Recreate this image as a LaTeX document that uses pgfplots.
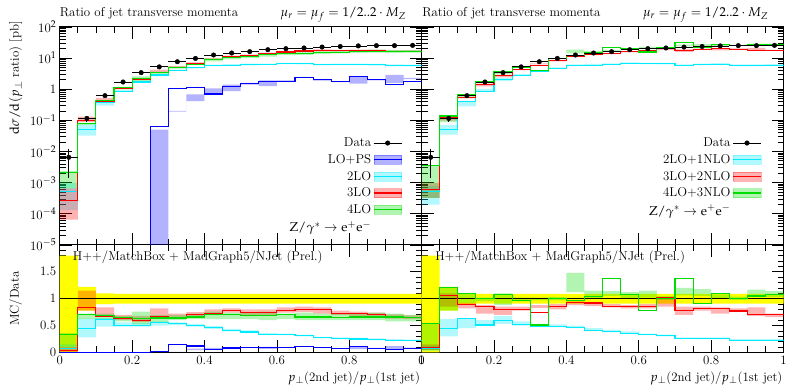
\documentclass[border=0pt]{standalone}
\usepackage[osf]{mathpazo}
\usepackage{pgfplots}
\pgfplotsset{compat=1.18}
\usepackage{pgfplotstable}
\usepgfplotslibrary{fillbetween}

\definecolor{mcgreen}{RGB}{0,220,0}
\definecolor{mccyan}{RGB}{0,235,255}
\definecolor{mcblue}{RGB}{0,0,255}
\definecolor{mcred}{RGB}{255,0,0}
\definecolor{datayellow}{RGB}{255,255,0}
\newcommand{\fs}{\fontsize{13}{15.5}\selectfont}

% left panel: data, ratios MC/Data (line, band low, band high)
\pgfplotstableread{
x    d      em   ep   dlo  dhi  c    clo  chi  r    rlo  rhi  g    glo  ghi  b        blo      bhi
0.00 0.0065 0.78 0.80 0.00 1.80 0.08 0.02 0.15 0.04 0.01 0.10 0.33 0.10 0.36 0.000001 0.000001 0.000001
0.05 0.115  0.22 0.22 0.78 1.22 0.44 0.28 0.63 0.83 0.78 1.15 0.70 0.62 0.72 0.000001 0.000001 0.000001
0.10 0.62   0.10 0.10 0.90 1.10 0.62 0.48 0.64 0.67 0.66 0.84 0.69 0.62 0.72 0.000001 0.000001 0.000001
0.15 1.7    0.09 0.09 0.91 1.09 0.50 0.48 0.56 0.64 0.60 0.70 0.65 0.58 0.68 0.000001 0.000001 0.000001
0.20 3.4    0.09 0.09 0.91 1.09 0.50 0.48 0.55 0.60 0.57 0.68 0.63 0.52 0.76 0.000001 0.000001 0.000001
0.25 5.2    0.09 0.09 0.91 1.09 0.55 0.50 0.58 0.67 0.65 0.82 0.64 0.55 0.70 0.0125   0.000001 0.0096
0.30 7.6    0.09 0.09 0.91 1.09 0.54 0.51 0.56 0.65 0.63 0.72 0.64 0.60 0.70 0.140    0.025    0.0263
0.35 9.7    0.09 0.09 0.91 1.09 0.50 0.48 0.53 0.70 0.66 0.75 0.66 0.62 0.72 0.120    0.043    0.070
0.40 12.5   0.09 0.09 0.91 1.09 0.46 0.44 0.49 0.73 0.70 0.80 0.70 0.62 0.76 0.056    0.058    0.085
0.45 14.5   0.09 0.09 0.91 1.09 0.41 0.39 0.44 0.78 0.74 0.82 0.70 0.62 0.74 0.083    0.060    0.097
0.50 16.0   0.09 0.09 0.91 1.09 0.38 0.36 0.41 0.74 0.70 0.80 0.68 0.62 0.74 0.094    0.0875   0.100
0.55 18.5   0.09 0.09 0.91 1.09 0.34 0.33 0.36 0.74 0.70 0.80 0.68 0.60 0.76 0.094    0.068    0.103
0.60 20.0   0.09 0.09 0.91 1.09 0.33 0.32 0.35 0.78 0.74 0.84 0.70 0.62 0.72 0.090    0.0875   0.095
0.65 21.0   0.09 0.09 0.91 1.09 0.31 0.30 0.33 0.80 0.75 0.85 0.66 0.60 0.74 0.114    0.110    0.119
0.70 22.5   0.09 0.09 0.91 1.09 0.27 0.26 0.29 0.80 0.72 0.84 0.66 0.60 0.72 0.089    0.084    0.093
0.75 23.5   0.09 0.09 0.91 1.09 0.26 0.25 0.28 0.73 0.70 0.78 0.65 0.60 0.72 0.074    0.072    0.077
0.80 24.5   0.09 0.09 0.91 1.09 0.25 0.24 0.27 0.72 0.68 0.76 0.66 0.60 0.72 0.106    0.061    0.106
0.85 25.0   0.09 0.09 0.91 1.09 0.24 0.23 0.26 0.70 0.65 0.74 0.66 0.60 0.74 0.080    0.076    0.084
0.90 25.0   0.09 0.09 0.91 1.09 0.23 0.22 0.25 0.67 0.63 0.71 0.66 0.58 0.72 0.056    0.064    0.116
0.95 25.5   0.09 0.09 0.91 1.09 0.22 0.21 0.24 0.65 0.62 0.69 0.65 0.58 0.70 0.067    0.082    0.090
1.00 25.5   0.09 0.09 0.91 1.09 0.22 0.21 0.24 0.65 0.62 0.69 0.65 0.58 0.70 0.067    0.082    0.090
}\tabL

% right panel
\pgfplotstableread{
x    d      em   ep   dlo  dhi  c    clo  chi  r    rlo  rhi  g    glo  ghi
0.00 0.0065 0.78 0.80 0.00 1.80 0.08 0.03 0.12 0.09 0.05 0.15 0.54 0.05 0.55
0.05 0.115  0.22 0.22 0.78 1.22 0.44 0.30 0.62 1.06 0.85 1.10 1.20 0.78 1.20
0.10 0.62   0.10 0.10 0.90 1.10 0.63 0.45 0.63 0.89 0.82 0.92 1.09 0.92 1.10
0.15 1.7    0.09 0.09 0.91 1.09 0.51 0.50 0.60 0.85 0.72 0.88 1.00 0.95 1.02
0.20 3.4    0.09 0.09 0.91 1.09 0.60 0.53 0.68 0.80 0.70 0.85 1.08 0.88 1.10
0.25 5.2    0.09 0.09 0.91 1.09 0.52 0.50 0.58 0.80 0.78 0.85 0.97 0.95 1.02
0.30 7.6    0.09 0.09 0.91 1.09 0.49 0.48 0.53 0.74 0.83 0.88 0.51 0.97 1.02
0.35 9.7    0.09 0.09 0.91 1.09 0.49 0.47 0.52 0.86 0.80 0.90 1.00 0.97 1.03
0.40 12.5   0.09 0.09 0.91 1.09 0.47 0.45 0.50 0.93 0.88 0.95 0.96 1.12 1.48
0.45 14.5   0.09 0.09 0.91 1.09 0.41 0.40 0.45 0.92 0.86 0.93 1.04 1.00 1.15
0.50 16.0   0.09 0.09 0.91 1.09 0.39 0.38 0.42 0.86 0.84 0.90 1.37 1.05 1.14
0.55 18.5   0.09 0.09 0.91 1.09 0.36 0.35 0.39 0.85 0.82 0.88 1.07 1.00 1.12
0.60 20.0   0.09 0.09 0.91 1.09 0.33 0.32 0.35 0.86 0.82 0.90 0.78 1.02 1.15
0.65 21.0   0.09 0.09 0.91 1.09 0.31 0.30 0.33 1.03 0.85 1.03 1.00 0.98 1.05
0.70 22.5   0.09 0.09 0.91 1.09 0.26 0.26 0.28 0.78 0.70 0.85 1.37 1.06 1.20
0.75 23.5   0.09 0.09 0.91 1.09 0.26 0.25 0.28 0.82 0.78 0.85 0.91 1.05 1.18
0.80 24.5   0.09 0.09 0.91 1.09 0.26 0.25 0.28 0.82 0.72 0.84 1.09 1.00 1.08
0.85 25.0   0.09 0.09 0.91 1.09 0.23 0.22 0.25 0.77 0.76 0.82 1.00 0.98 1.04
0.90 25.0   0.09 0.09 0.91 1.09 0.23 0.22 0.25 0.70 0.68 0.84 1.05 1.03 1.17
0.95 25.5   0.09 0.09 0.91 1.09 0.23 0.22 0.25 0.70 0.66 0.72 1.07 1.03 1.14
1.00 25.5   0.09 0.09 0.91 1.09 0.23 0.22 0.25 0.70 0.66 0.72 1.07 1.03 1.14
}\tabR

\newcommand{\mainband}[4]{%
  \addplot[const plot, draw=none, forget plot, name path=#2] table[x=x, y expr=\thisrow{#2}*\thisrow{d}] {#1};
  \addplot[const plot, draw=none, forget plot, name path=#3] table[x=x, y expr=\thisrow{#3}*\thisrow{d}] {#1};
  \addplot[fill=#4, fill opacity=0.3, draw=none, forget plot] fill between[of=#2 and #3];
}
\newcommand{\mainline}[3]{%
  \addplot[const plot, #3, line width=1.1bp, forget plot] table[x=x, y expr=\thisrow{#2}*\thisrow{d}] {#1};
}
\newcommand{\ratioband}[4]{%
  \addplot[const plot, draw=none, forget plot, name path=#2] table[x=x, y=#2] {#1};
  \addplot[const plot, draw=none, forget plot, name path=#3] table[x=x, y=#3] {#1};
  \addplot[fill=#4, fill opacity=0.3, draw=none, forget plot] fill between[of=#2 and #3];
}
\newcommand{\ratioline}[3]{%
  \addplot[const plot, #3, line width=1.1bp, forget plot] table[x=x, y=#2] {#1};
}
\newcommand{\datapoints}[1]{%
  \addplot[black, only marks, mark=*, mark size=2.3bp, forget plot,
    error bars/x dir=both, error bars/x fixed=0.025,
    error bars/y dir=both, error bars/y explicit,
    error bars/error bar style={black, line width=0.8bp}, error bars/error mark=none]
    table[x expr=\thisrow{x}+0.025, y=d,
          y error plus expr=\thisrow{ep}*\thisrow{d},
          y error minus expr=\thisrow{em}*\thisrow{d}] {#1};
}
\newcommand{\yellowband}[1]{%
  \addplot[const plot, draw=none, forget plot, name path=dlo] table[x=x, y=dlo] {#1};
  \addplot[const plot, draw=none, forget plot, name path=dhi] table[x=x, y=dhi] {#1};
  \addplot[fill=datayellow, draw=none, forget plot] fill between[of=dlo and dhi];
  \addplot[black, line width=1bp, forget plot] coordinates {(0,1) (1,1)};
}

\newcommand{\legband}[1]{\addlegendimage{legend image code/.code={
  \fill[#1, opacity=0.3] (0bp,-4.5bp) rectangle (28bp,4.5bp);
  \draw[#1, line width=1.2bp] (0bp,0bp) -- (28bp,0bp);}}}
\newcommand{\legdata}{\addlegendimage{legend image code/.code={
  \draw[black, line width=0.8bp] (0bp,0bp) -- (28bp,0bp);
  \fill[black] (14bp,0bp) circle (2.3bp);}}}

\begin{document}
\begin{tikzpicture}[x=1bp, y=1bp]
\path (0,0) rectangle (790,388);

% titles
\node[anchor=base west, inner sep=0pt, font=\fs] at (60,371) {Ratio of jet transverse momenta};
\node[anchor=base east, inner sep=0pt, font=\fs] at (408,371) {$\mu_r=\mu_f=1/2..2\cdot M_Z$};
\node[anchor=base west, inner sep=0pt, font=\fs] at (424,371) {Ratio of jet transverse momenta};
\node[anchor=base east, inner sep=0pt, font=\fs] at (772,371) {$\mu_r=\mu_f=1/2..2\cdot M_Z$};

% generator labels (under the bands)
\node[anchor=base west, inner sep=0pt, font=\fs] at (73,126) {H++/MatchBox + MadGraph5/NJet (Prel.)};
\node[anchor=base west, inner sep=0pt, font=\fs] at (437,126) {H++/MatchBox + MadGraph5/NJet (Prel.)};

% axis titles
\node[anchor=base east, rotate=90, inner sep=0pt, font=\fs] at (19,367) {$\mathrm{d}\sigma/\mathrm{d}(p_\perp$ ratio) [pb]};
\node[anchor=base, rotate=90, inner sep=0pt, font=\fs] at (19,88) {MC/Data};
\node[anchor=base east, inner sep=0pt, font=\fs] at (422,5) {$p_\perp$(2nd jet)/$p_\perp$(1st jet)};
\node[anchor=base east, inner sep=0pt, font=\fs] at (786,5) {$p_\perp$(2nd jet)/$p_\perp$(1st jet)};

% ---------------- left main
\begin{axis}[at={(60bp,142bp)}, anchor=south west,
  scale only axis, width=363.5bp, height=219bp,
  xmin=0, xmax=1, ymode=log, ymin=1e-5, ymax=100,
  xtick={0,0.2,0.4,0.6,0.8,1}, minor x tick num=3, xticklabels={},
  ytick={1e-5,1e-4,1e-3,1e-2,1e-1,1,10,100},
  minor ytick={2e-5,3e-5,4e-5,5e-5,6e-5,7e-5,8e-5,9e-5,
               2e-4,3e-4,4e-4,5e-4,6e-4,7e-4,8e-4,9e-4,
               2e-3,3e-3,4e-3,5e-3,6e-3,7e-3,8e-3,9e-3,
               2e-2,3e-2,4e-2,5e-2,6e-2,7e-2,8e-2,9e-2,
               0.2,0.3,0.4,0.5,0.6,0.7,0.8,0.9,
               2,3,4,5,6,7,8,9,
               20,30,40,50,60,70,80,90},
  yticklabels={10$^{-5}$,10$^{-4}$,10$^{-3}$,10$^{-2}$,10$^{-1}$,1,10$^{1}$,10$^{2}$},
  tick align=inside, tick pos=both,
  major tick length=12bp, minor tick length=6bp,
  tick style={black, line width=0.7bp},
  axis line style={line width=0.9bp},
  tick label style={font=\fs},
  legend cell align=right, legend plot pos=right,
  legend style={at={(0.955,0.51)}, anchor=north east, draw=none, fill=none,
    font=\fs, row sep=2.2bp,
    /tikz/every even column/.append style={column sep=7bp}}]
  \mainband{\tabL}{blo}{bhi}{mcblue}
  \mainband{\tabL}{clo}{chi}{mccyan}
  \mainband{\tabL}{rlo}{rhi}{mcred}
  \mainband{\tabL}{glo}{ghi}{mcgreen}
  \mainline{\tabL}{b}{mcblue}
  \mainline{\tabL}{c}{mccyan}
  \mainline{\tabL}{r}{mcred}
  \mainline{\tabL}{g}{mcgreen}
  \datapoints{\tabL}
  \legdata \addlegendentry{Data}
  \legband{mcblue} \addlegendentry{LO+PS}
  \legband{mccyan} \addlegendentry{2LO}
  \legband{mcred} \addlegendentry{3LO}
  \legband{mcgreen} \addlegendentry{4LO}
  \addlegendimage{empty legend} \addlegendentry{$\mathrm{Z}/\gamma^{*}\rightarrow\mathrm{e}^{+}\mathrm{e}^{-}$}
\end{axis}

% ---------------- left ratio
\begin{axis}[at={(60bp,34bp)}, anchor=south west,
  scale only axis, width=363.5bp, height=108bp,
  xmin=0, xmax=1, ymin=0, ymax=2,
  xtick={0,0.2,0.4,0.6,0.8,1}, minor x tick num=3,
  xticklabels={0,0.2,0.4,0.6,0.8,1},
  ytick={0,0.5,1,1.5,2}, minor y tick num=4,
  yticklabels={0,0.5,1,1.5,{}},
  tick align=inside, tick pos=both,
  major tick length=12bp, minor tick length=6bp,
  tick style={black, line width=0.7bp},
  axis line style={line width=0.9bp},
  tick label style={font=\fs}]
  \yellowband{\tabL}
  \ratioband{\tabL}{blo}{bhi}{mcblue}
  \ratioband{\tabL}{clo}{chi}{mccyan}
  \ratioband{\tabL}{rlo}{rhi}{mcred}
  \ratioband{\tabL}{glo}{ghi}{mcgreen}
  \ratioline{\tabL}{b}{mcblue}
  \ratioline{\tabL}{c}{mccyan}
  \ratioline{\tabL}{r}{mcred}
  \ratioline{\tabL}{g}{mcgreen}
\end{axis}

% ---------------- right main
\begin{axis}[at={(423.5bp,142bp)}, anchor=south west,
  scale only axis, width=363.5bp, height=219bp,
  xmin=0, xmax=1, ymode=log, ymin=1e-5, ymax=100,
  xtick={0,0.2,0.4,0.6,0.8,1}, minor x tick num=3, xticklabels={},
  ytick={1e-5,1e-4,1e-3,1e-2,1e-1,1,10,100},
  minor ytick={2e-5,3e-5,4e-5,5e-5,6e-5,7e-5,8e-5,9e-5,
               2e-4,3e-4,4e-4,5e-4,6e-4,7e-4,8e-4,9e-4,
               2e-3,3e-3,4e-3,5e-3,6e-3,7e-3,8e-3,9e-3,
               2e-2,3e-2,4e-2,5e-2,6e-2,7e-2,8e-2,9e-2,
               0.2,0.3,0.4,0.5,0.6,0.7,0.8,0.9,
               2,3,4,5,6,7,8,9,
               20,30,40,50,60,70,80,90},
  yticklabels={},
  tick align=inside, tick pos=both,
  major tick length=12bp, minor tick length=6bp,
  tick style={black, line width=0.7bp},
  axis line style={line width=0.9bp},
  tick label style={font=\fs},
  legend cell align=right, legend plot pos=right,
  legend style={at={(0.948,0.51)}, anchor=north east, draw=none, fill=none,
    font=\fs, row sep=2.2bp,
    /tikz/every even column/.append style={column sep=7bp}}]
  \mainband{\tabR}{clo}{chi}{mccyan}
  \mainband{\tabR}{rlo}{rhi}{mcred}
  \mainband{\tabR}{glo}{ghi}{mcgreen}
  \mainline{\tabR}{c}{mccyan}
  \mainline{\tabR}{r}{mcred}
  \mainline{\tabR}{g}{mcgreen}
  \datapoints{\tabR}
  \legdata \addlegendentry{Data}
  \legband{mccyan} \addlegendentry{2LO+1NLO}
  \legband{mcred} \addlegendentry{3LO+2NLO}
  \legband{mcgreen} \addlegendentry{4LO+3NLO}
  \addlegendimage{empty legend} \addlegendentry{$\mathrm{Z}/\gamma^{*}\rightarrow\mathrm{e}^{+}\mathrm{e}^{-}$}
\end{axis}

% ---------------- right ratio
\begin{axis}[at={(423.5bp,34bp)}, anchor=south west,
  scale only axis, width=363.5bp, height=108bp,
  xmin=0, xmax=1, ymin=0, ymax=2,
  xtick={0,0.2,0.4,0.6,0.8,1}, minor x tick num=3,
  xticklabels={0,0.2,0.4,0.6,0.8,1},
  ytick={0,0.5,1,1.5,2}, minor y tick num=4,
  yticklabels={},
  tick align=inside, tick pos=both,
  major tick length=12bp, minor tick length=6bp,
  tick style={black, line width=0.7bp},
  axis line style={line width=0.9bp},
  tick label style={font=\fs}]
  \yellowband{\tabR}
  \ratioband{\tabR}{clo}{chi}{mccyan}
  \ratioband{\tabR}{rlo}{rhi}{mcred}
  \ratioband{\tabR}{glo}{ghi}{mcgreen}
  \ratioline{\tabR}{c}{mccyan}
  \ratioline{\tabR}{r}{mcred}
  \ratioline{\tabR}{g}{mcgreen}
\end{axis}
\end{tikzpicture}
\end{document}
